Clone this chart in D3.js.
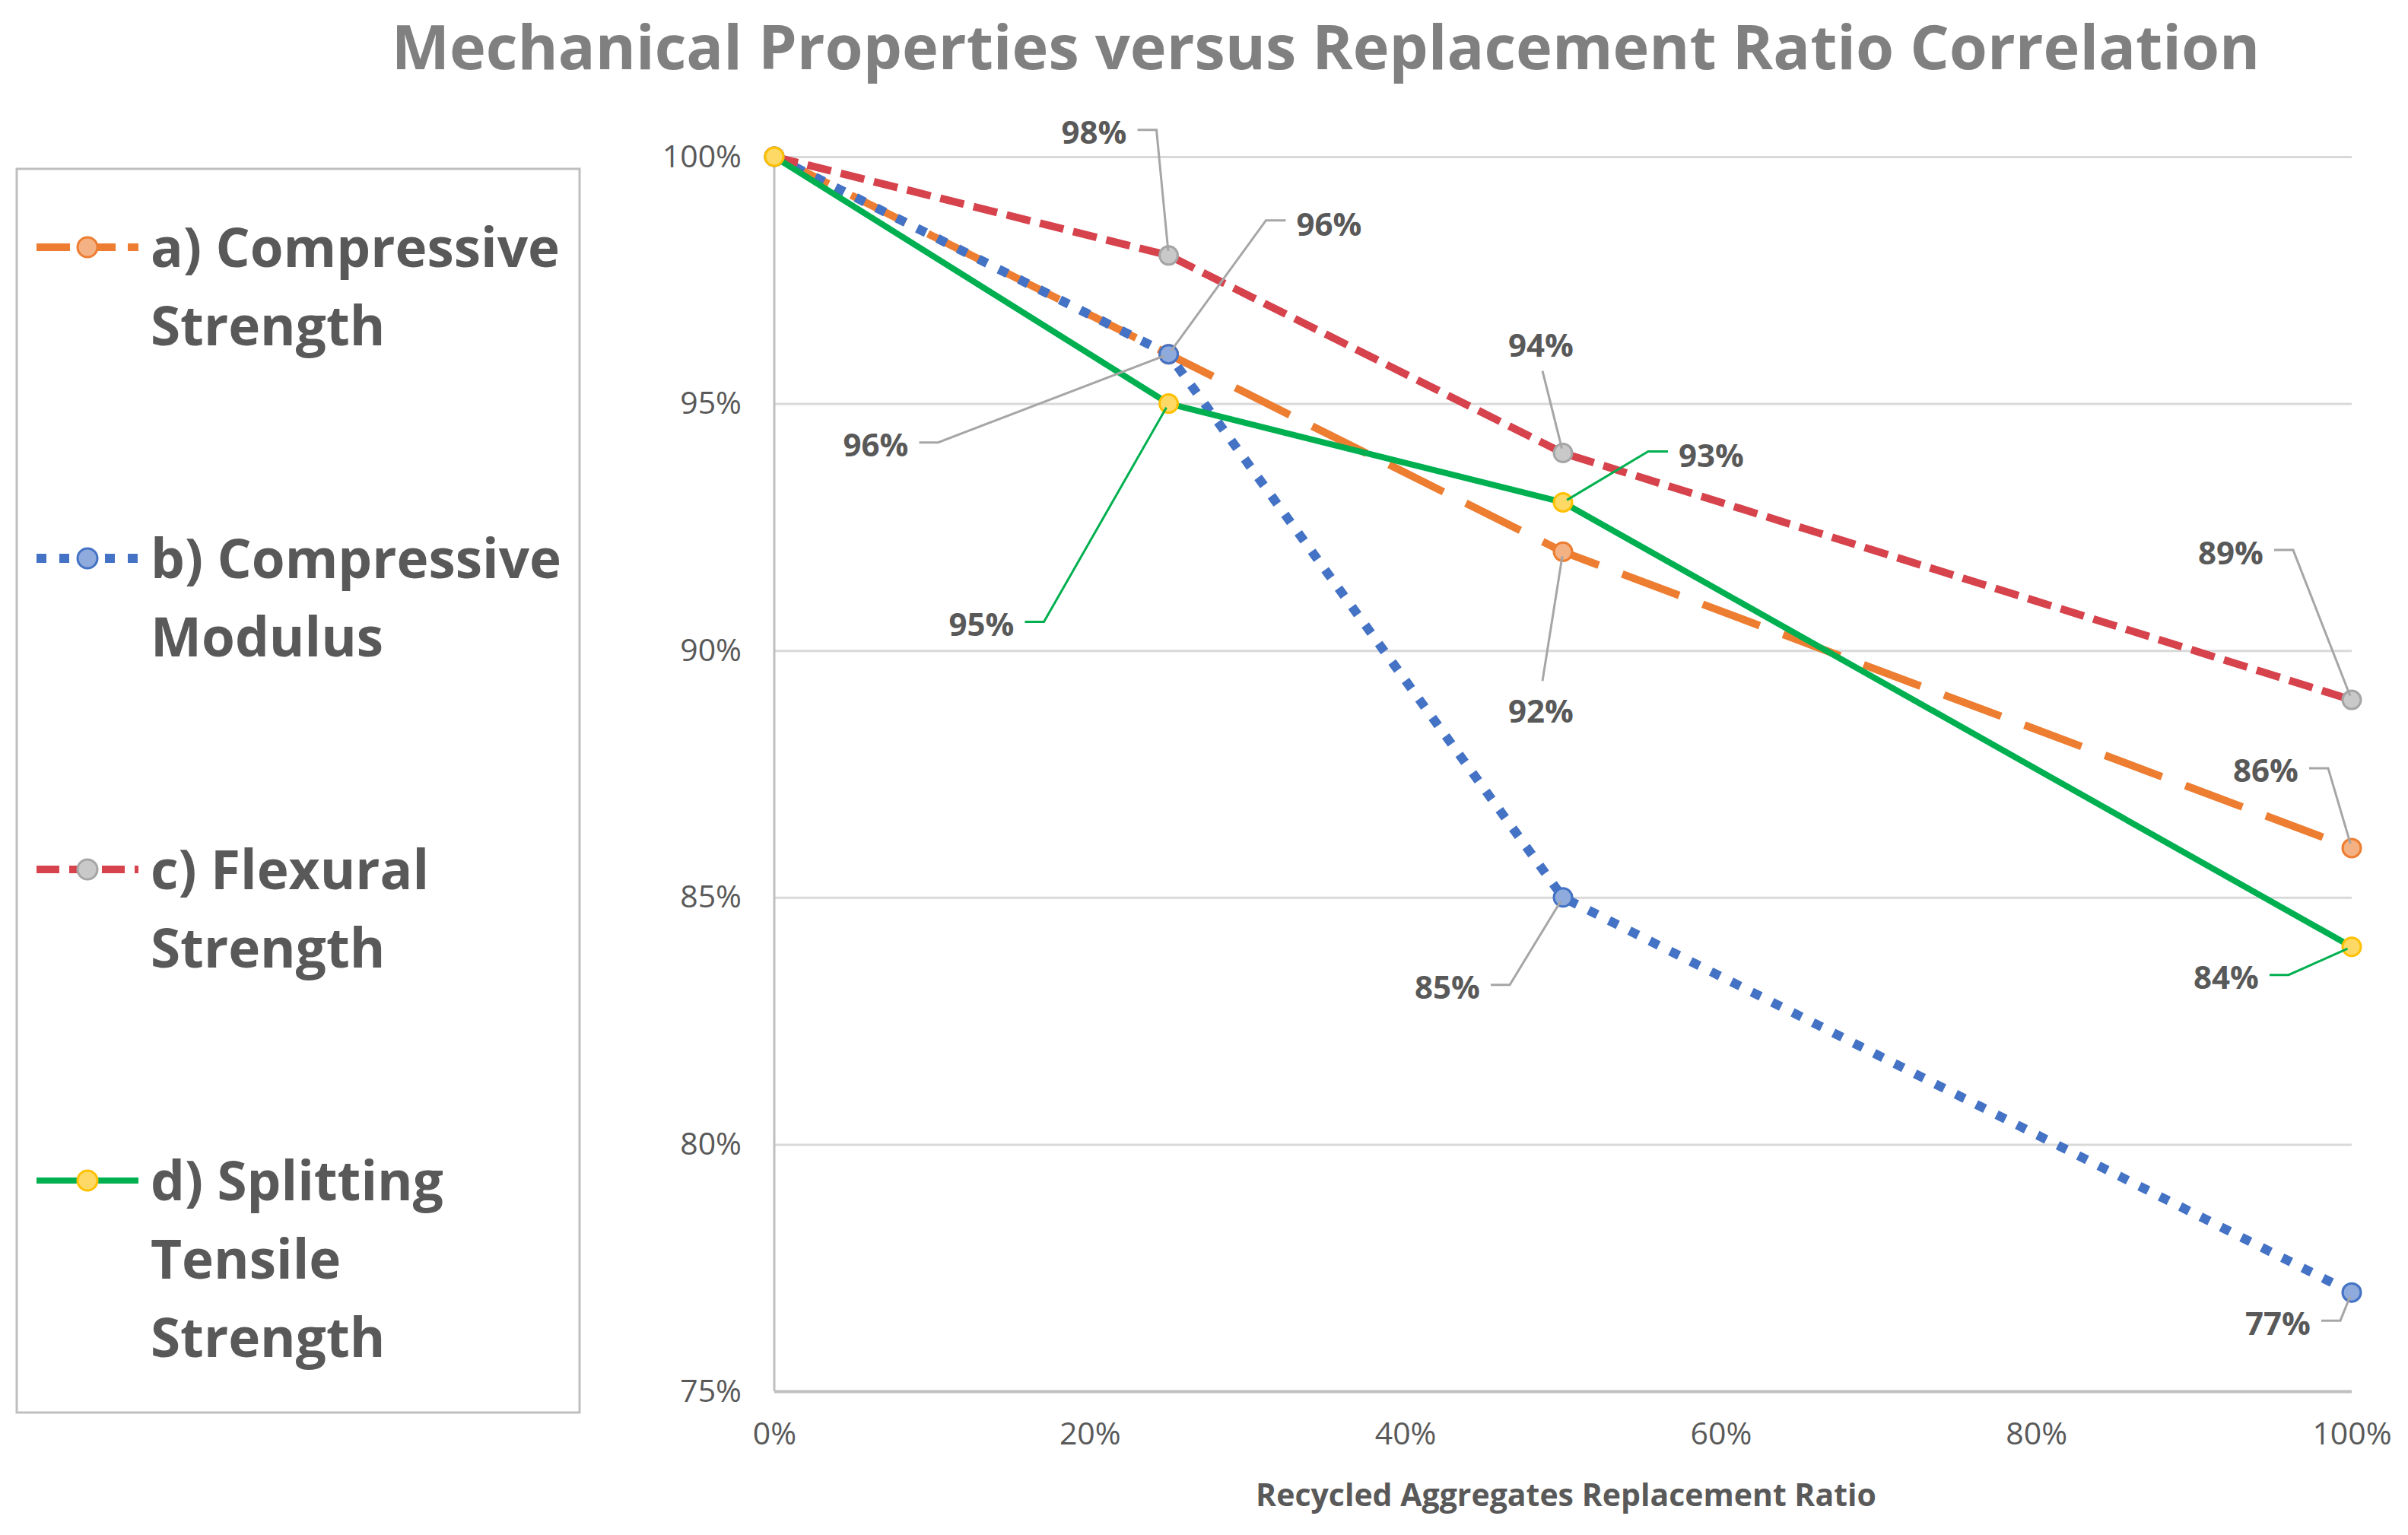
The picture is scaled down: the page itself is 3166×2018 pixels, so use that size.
<!DOCTYPE html>
<html>
<head>
<meta charset="utf-8">
<script src="https://cdn.jsdelivr.net/npm/d3@7"></script>
<style>
  body { margin: 0; background: #fff; }
  text { font-family: "Open Sans", sans-serif; }
</style>
</head>
<body>
<svg id="chart"></svg>
<script>
// data
const ratios = [0, 25, 50, 100];
const compressiveStrength = [100, 96, 92, 86];
const compressiveModulus = [100, 96, 85, 77];
const flexuralStrength = [100, 98, 94, 89];
const splittingTensile = [100, 95, 93, 84];
const seriesValues = [compressiveStrength, compressiveModulus, flexuralStrength, splittingTensile];
const legendLines = [
  ["a) Compressive", "Strength"],
  ["b) Compressive", "Modulus"],
  ["c) Flexural", "Strength"],
  ["d) Splitting", "Tensile", "Strength"]
];
const xTicks = [0, 20, 40, 60, 80, 100];
const yTicks = [75, 80, 85, 90, 95, 100];

// look of each series
const styles = [
  { color: "#ed7d31", dash: "80 33", legendDash: "44 16", width: 10, fill: "#f4b183", stroke: "#ed7d31", leader: "#a6a6a6" },
  { color: "#4472c4", dash: "13 17", legendDash: "13 17", width: 12, fill: "#8faadc", stroke: "#4472c4", leader: "#a6a6a6" },
  { color: "#d6434c", dash: "32 13", legendDash: "30 13", width: 10, fill: "#c9c9c9", stroke: "#a5a5a5", leader: "#a6a6a6" },
  { color: "#00b050", dash: null, legendDash: null, width: 8, fill: "#ffd966", stroke: "#ffc000", leader: "#00b050" }
];

// label placement relative to the point (px), null = no label
const labelPlace = [
  [null, { dx: -385, dy: 118, side: "right" }, { dx: -29, dy: 208, side: "above" }, { dx: -113, dy: -103, side: "right" }],
  [null, { dx: 211, dy: -172, side: "left" }, { dx: -152, dy: 117, side: "right" }, { dx: -97, dy: 39, side: "right" }],
  [null, { dx: -98, dy: -163, side: "right" }, { dx: -29, dy: -143, side: "below" }, { dx: -159, dy: -195, side: "right" }],
  [null, { dx: -246, dy: 289, side: "right" }, { dx: 195, dy: -63, side: "left" }, { dx: -165, dy: 39, side: "right" }]
];

const W = 3166, H = 2018;
const svg = d3.select("#chart").attr("width", W).attr("height", H);

const x = d3.scaleLinear().domain([0, 100]).range([1018, 3092]);
const y = d3.scaleLinear().domain([75, 100]).range([1829, 206]);

// title
svg.append("text")
  .attr("x", 1743).attr("y", 91)
  .attr("text-anchor", "middle")
  .attr("font-size", 81).attr("font-weight", 700)
  .attr("fill", "#808080")
  .text("Mechanical Properties versus Replacement Ratio Correlation");

// gridlines
const grid = svg.append("g")
  .attr("transform", `translate(${x(0)},0)`)
  .call(d3.axisLeft(y).tickValues(yTicks).tickSize(-(x(100) - x(0))).tickFormat(""));
grid.select(".domain").remove();
grid.selectAll(".tick line").attr("stroke", "#d9d9d9").attr("stroke-width", 3);
grid.selectAll(".tick").filter(d => d === 75).select("line")
  .attr("stroke", "#bfbfbf").attr("stroke-width", 4);

// vertical axis line
svg.append("line")
  .attr("x1", x(0)).attr("x2", x(0))
  .attr("y1", y(100)).attr("y2", y(75))
  .attr("stroke", "#bfbfbf").attr("stroke-width", 3);

// y tick labels
const yAxis = svg.append("g")
  .attr("transform", `translate(975,0)`)
  .call(d3.axisLeft(y).tickValues(yTicks).tickSize(0).tickPadding(0).tickFormat(d => d + "%"));
yAxis.select(".domain").remove();
yAxis.selectAll("text")
  .attr("font-size", 41).attr("fill", "#595959")
  .attr("font-family", "Open Sans, sans-serif");

// x tick labels
const xAxis = svg.append("g")
  .attr("transform", `translate(0,1870)`)
  .call(d3.axisBottom(x).tickValues(xTicks).tickSize(0).tickPadding(0).tickFormat(d => d + "%"));
xAxis.select(".domain").remove();
xAxis.selectAll("text")
  .attr("font-size", 41).attr("fill", "#595959")
  .attr("font-family", "Open Sans, sans-serif");

// x axis title
svg.append("text")
  .attr("x", 2059).attr("y", 1980)
  .attr("text-anchor", "middle")
  .attr("font-size", 41).attr("font-weight", 700)
  .attr("fill", "#595959")
  .text("Recycled Aggregates Replacement Ratio");

// lines and markers
const line = d3.line().x((d, i) => x(ratios[i])).y(d => y(d));

seriesValues.forEach((vals, s) => {
  const st = styles[s];
  const g = svg.append("g");
  g.append("path")
    .attr("d", line(vals))
    .attr("fill", "none")
    .attr("stroke", st.color)
    .attr("stroke-width", st.width)
    .attr("stroke-dasharray", st.dash)
    .attr("stroke-linejoin", "round");
  g.selectAll("circle")
    .data(vals)
    .join("circle")
      .attr("cx", (d, i) => x(ratios[i]))
      .attr("cy", d => y(d))
      .attr("r", 12)
      .attr("fill", st.fill)
      .attr("stroke", st.stroke)
      .attr("stroke-width", 3);
});

// data labels with leader lines
seriesValues.forEach((vals, s) => {
  const st = styles[s];
  vals.forEach((v, i) => {
    const p = labelPlace[s][i];
    if (!p) return;
    const px = x(ratios[i]), py = y(v);
    const lx = px + p.dx, ly = py + p.dy;
    let pts;
    if (p.side === "right") pts = [[lx + 57, ly - 2], [lx + 82, ly - 2], [px, py]];
    else if (p.side === "left") pts = [[lx - 57, ly - 4], [lx - 83, ly - 4], [px, py]];
    else if (p.side === "below") pts = [[lx + 2, ly + 35], [px, py]];
    else pts = [[lx + 2, ly - 38], [px, py]];
    // stop the leader just inside the marker
    const a = pts[pts.length - 2], b = pts[pts.length - 1];
    const len = Math.hypot(b[0] - a[0], b[1] - a[1]);
    pts[pts.length - 1] = [b[0] - (b[0] - a[0]) / len * 6, b[1] - (b[1] - a[1]) / len * 6];
    svg.append("path")
      .attr("d", d3.line()(pts))
      .attr("fill", "none")
      .attr("stroke", st.leader)
      .attr("stroke-width", 3);
    svg.append("text")
      .attr("x", lx).attr("y", ly)
      .attr("text-anchor", "middle")
      .attr("dominant-baseline", "central")
      .attr("font-size", 42).attr("font-weight", 700)
      .attr("fill", "#595959")
      .text(v + "%");
  });
});

// legend
svg.append("rect")
  .attr("x", 22).attr("y", 222)
  .attr("width", 740).attr("height", 1635)
  .attr("fill", "none")
  .attr("stroke", "#bfbfbf").attr("stroke-width", 3);

const legendY = d3.scalePoint().domain(d3.range(4)).range([325, 1552]);

legendLines.forEach((lines, s) => {
  const st = styles[s];
  const cy = legendY(s);
  const g = svg.append("g");
  g.append("line")
    .attr("x1", 48).attr("x2", 182)
    .attr("y1", cy).attr("y2", cy)
    .attr("stroke", st.color)
    .attr("stroke-width", st.width)
    .attr("stroke-dasharray", st.legendDash);
  g.append("circle")
    .attr("cx", 115).attr("cy", cy).attr("r", 13)
    .attr("fill", st.fill).attr("stroke", st.stroke).attr("stroke-width", 3);
  g.append("text")
    .attr("x", 198).attr("y", cy + 26)
    .attr("font-size", 71).attr("font-weight", 700)
    .attr("fill", "#595959")
    .selectAll("tspan")
    .data(lines)
    .join("tspan")
      .attr("x", 198)
      .attr("dy", (d, i) => i === 0 ? 0 : 103)
      .text(d => d);
});
</script>
</body>
</html>
